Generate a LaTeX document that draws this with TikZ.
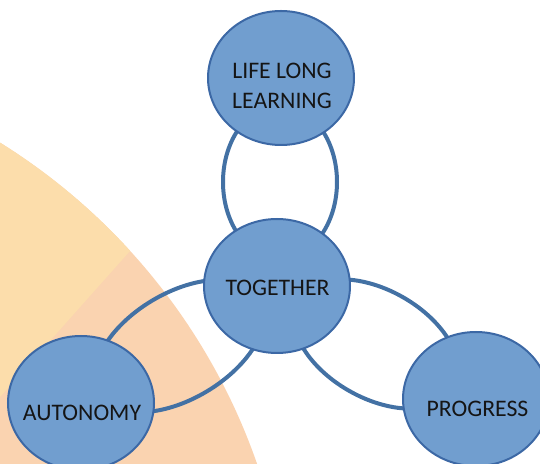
\documentclass[tikz,border=0pt]{standalone}
\usepackage{fontspec}
\setmainfont{Carlito}
\usetikzlibrary{shapes.geometric,calc}

\definecolor{sandY}{HTML}{FCDDAB}
\definecolor{sandP}{HTML}{FAD3B0}
\definecolor{bubbleFill}{HTML}{719ECF}
\definecolor{bubbleEdge}{HTML}{3C68A5}
\definecolor{linkBlue}{HTML}{4371A4}
\definecolor{ink}{HTML}{151515}

\tikzset{
  bubble/.style={ellipse, fill=bubbleFill, draw=bubbleEdge, line width=1.5pt,
    minimum width=146*0.75pt, minimum height=134*0.75pt, inner sep=0pt},
  lbl/.style={text=ink, font=\fontsize{17.8pt}{22.5pt}\selectfont, align=center, inner sep=0pt},
  link/.style={draw=linkBlue, line width=3pt}
}

\begin{document}
\begin{tikzpicture}[x=0.75pt, y=0.75pt]
  \useasboundingbox (0,0) rectangle (540,464);
  \clip (0,0) rectangle (540,464);

  % large two-tone backdrop disc
  \begin{scope}
    \clip (-325,-202) circle [radius=616];
    \fill[sandP] (-330,-210) rectangle (300,470);
    \fill[sandY] (-10,55.8) -- (300,403.9) -- (300,470) -- (-10,470) -- cycle;
  \end{scope}

  % bubble centres
  \coordinate (cLife) at (281,386);
  \coordinate (cTog)  at (277,178);
  \coordinate (cAuto) at (81,61);
  \coordinate (cProg) at (476,65);

  % ring connectors between neighbouring bubbles
  \coordinate (mLT) at (280,282);
  \coordinate (mTA) at (179.5,118);
  \coordinate (mTP) at (376,120);
  \draw[link] (mLT) ellipse [x radius=57, y radius=77];
  \draw[link, rotate around={30.8:(mTA)}] (mTA) ellipse [x radius=94, y radius=53];
  \draw[link, rotate around={-29.6:(mTP)}] (mTP) ellipse [x radius=90, y radius=54];

  % bubbles
  \node[bubble] (life) at (cLife) {};
  \node[bubble] (tog)  at (cTog)  {};
  \node[bubble] (auto) at (cAuto) {};
  \node[bubble] (prog) at (cProg) {};

  % labels
  \node[lbl] (lifeT) at (282,378.5) {LIFE LONG\\LEARNING};
  \node[lbl] (togT)  at (277.5,176) {TOGETHER};
  \node[lbl] (autoT) at (82,51.5)   {AUTONOMY};
  \node[lbl] (progT) at (477.5,55.5) {PROGRESS};
\end{tikzpicture}
\end{document}
